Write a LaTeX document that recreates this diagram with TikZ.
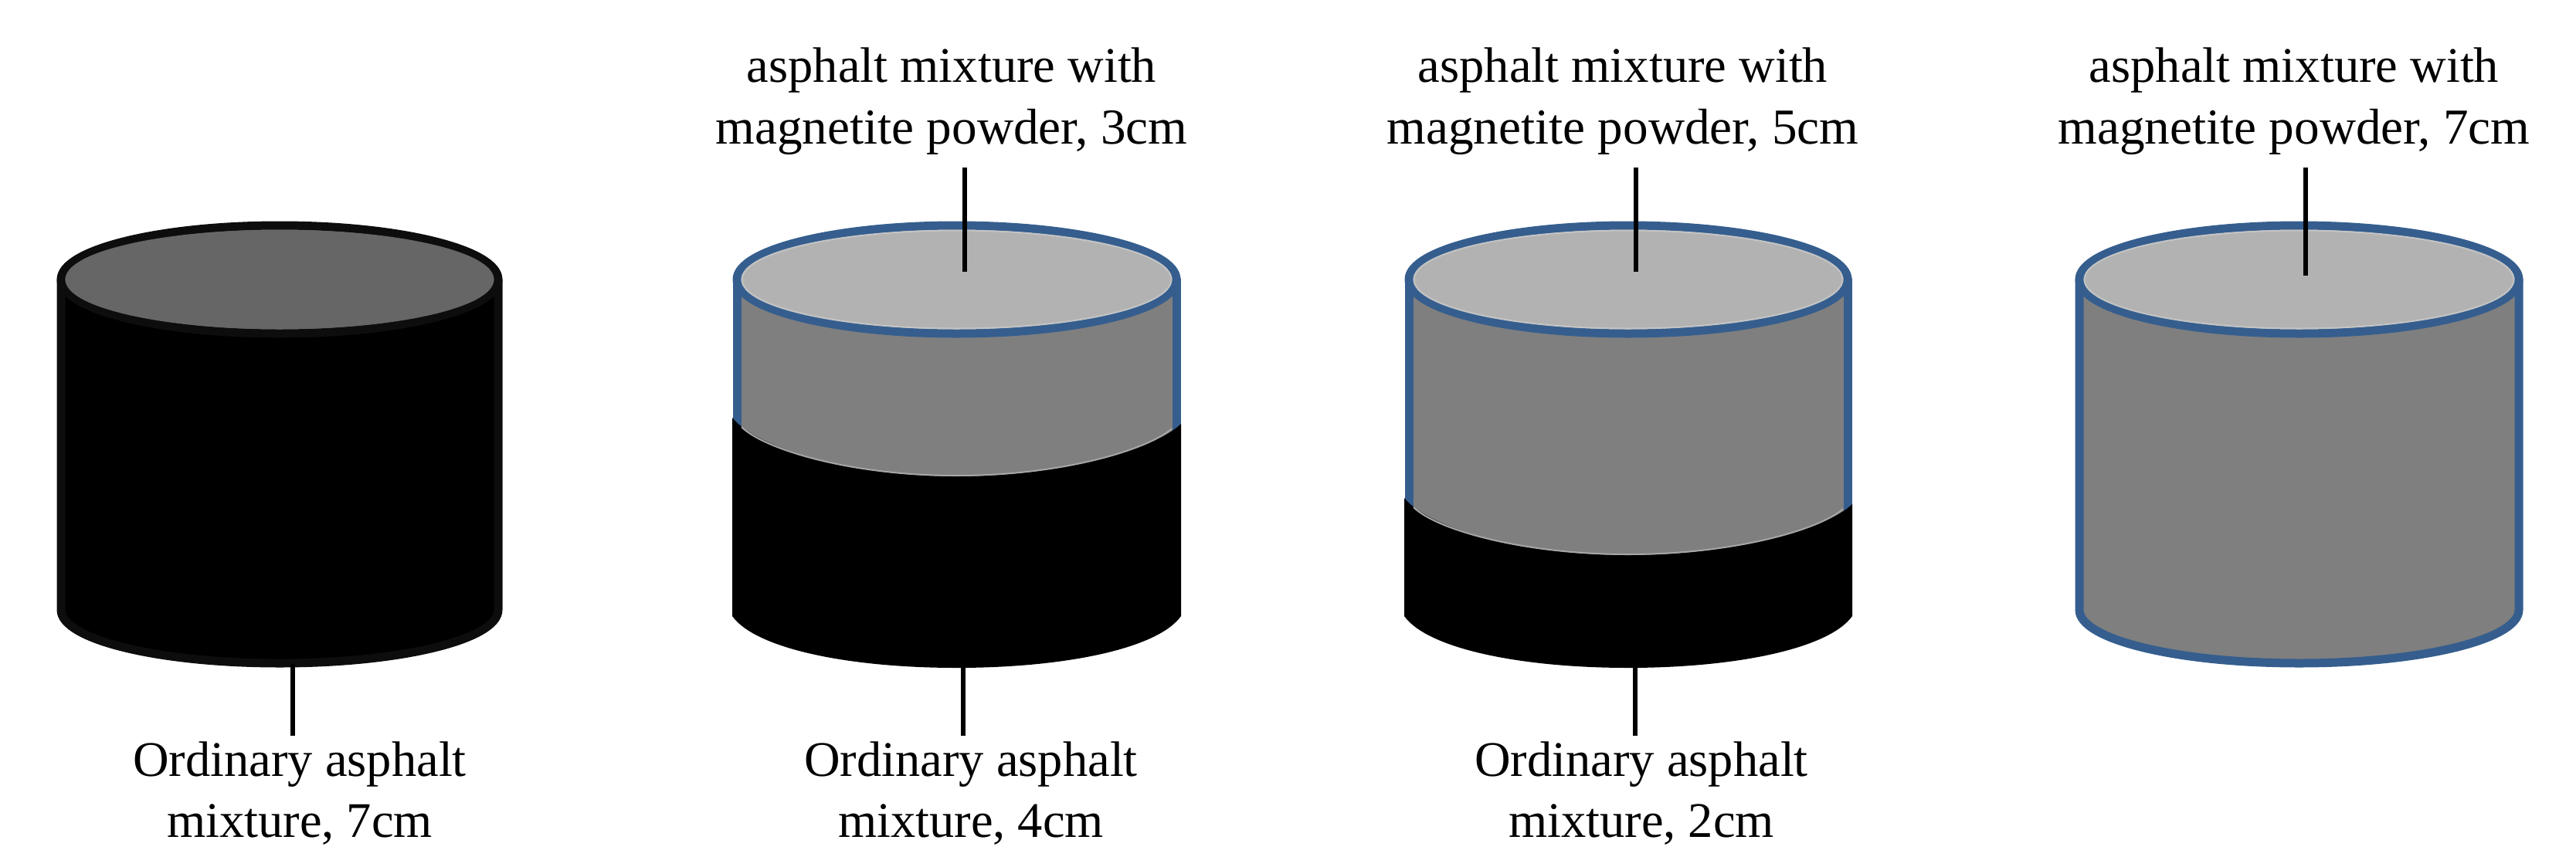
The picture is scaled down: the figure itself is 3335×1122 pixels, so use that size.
\documentclass[tikz,border=0pt]{standalone}
\usepackage{fontspec}
\setmainfont{Liberation Serif}
\definecolor{rimblue}{HTML}{355E8E}
\definecolor{bodygray}{HTML}{7F7F7F}
\definecolor{topgray}{HTML}{B2B2B2}
\definecolor{darktop}{HTML}{666666}
\definecolor{darkrim}{HTML}{0D0D0D}
\definecolor{softrim}{HTML}{C4C4C4}
\definecolor{edgegray}{HTML}{A6A6A6}
\tikzset{
  lab/.style={align=center,font=\fontsize{64.5}{80}\selectfont,inner sep=0pt,anchor=base},
  labwide/.style={lab,font=\fontsize{65.2}{80}\selectfont},
  leader/.style={draw=black,line width=5.5pt},
  rimline/.style={line width=11pt,line join=round},
}
% #1 left centre-line x, #2 right centre-line x, #3 body fill, #4 outline
\newcommand{\cylbody}[4]{%
  \path[fill=#3,draw=#4,rimline] (#1,362) -- (#1,790)
     .. controls (#1,828) and ({#1+0.22*(#2-#1)},859) .. ({(#1+#2)/2},859)
     .. controls ({#2-0.22*(#2-#1)},859) and (#2,828) .. (#2,790) -- (#2,362) -- cycle;
}
% upper part only, ending at the height #3 hidden behind the black layer
\newcommand{\cylupper}[3]{%
  \path[fill=bodygray,draw=rimblue,rimline] (#1,362) -- (#1,#3) -- (#2,#3) -- (#2,362) -- cycle;
}
% #1 left, #2 right, #3 outline, #4 top fill, #5 inner rim
\newcommand{\cyltop}[5]{%
  \path[fill=#4,draw=#3,rimline] ({(#1+#2)/2},362) ellipse ({(#2-#1)/2} and 70);
  \path[draw=#5,line width=2pt] ({(#1+#2)/2},362) ellipse ({(#2-#1)/2-6.5} and 63.5);
}
% #1 left outer x, #2 right outer x, #3 interface side y, #4 interface mid y
\newcommand{\blacklayer}[4]{%
  \path[fill=black] (#1,#3) .. controls ({#1+30},{#3+38}) and ({#1+150},#4) .. ({(#1+#2)/2},#4)
     .. controls ({#2-150},#4) and ({#2-30},{#3+38}) .. (#2,{#3+8})
     -- (#2,798) .. controls ({#2-30},840) and ({#2-150},865) .. ({(#1+#2)/2},865)
     .. controls ({#1+150},865) and ({#1+30},840) .. (#1,798) -- cycle;
  \path[draw=edgegray,line width=2pt] ({#1+12},{#3+12}) .. controls ({#1+40},{#3+40}) and ({#1+150},{#4-1}) .. ({(#1+#2)/2},{#4-1})
     .. controls ({#2-150},{#4-1}) and ({#2-40},{#3+40}) .. ({#2-12},{#3+14});
}
\begin{document}
\begin{tikzpicture}[x=1pt,y=-1pt]
\useasboundingbox[fill=white] (0,0) rectangle (3335,1122);
% cylinder 1
\cylbody{79}{645}{black}{darkrim}
\cyltop{79}{645}{darkrim}{darktop}{darktop}
% cylinder 2
\cylupper{954}{1523}{650}
\blacklayer{948}{1529}{541}{617}
\cyltop{954}{1523}{rimblue}{topgray}{softrim}
% cylinder 3
\cylupper{1824}{2392}{750}
\blacklayer{1818}{2398}{645}{719}
\cyltop{1824}{2392}{rimblue}{topgray}{softrim}
% cylinder 4
\cylbody{2692}{3261}{bodygray}{rimblue}
\cyltop{2692}{3261}{rimblue}{topgray}{softrim}
% labels
\node[lab] (top2a) at (1232,106) {asphalt mixture with};
\node[labwide] (top2b) at (1232,186) {magnetite powder, 3cm};
\node[lab] (top3a) at (2101,106) {asphalt mixture with};
\node[labwide] (top3b) at (2101,186) {magnetite powder, 5cm};
\node[lab] (top4a) at (2970,106) {asphalt mixture with};
\node[labwide] (top4b) at (2970,186) {magnetite powder, 7cm};
\node[lab] (low1a) at (388,1005) {Ordinary asphalt};
\node[lab] (low1b) at (388,1084) {mixture, 7cm};
\node[lab] (low2a) at (1257,1005) {Ordinary asphalt};
\node[lab] (low2b) at (1257,1084) {mixture, 4cm};
\node[lab] (low3a) at (2125,1005) {Ordinary asphalt};
\node[lab] (low3b) at (2125,1084) {mixture, 2cm};
% leaders
\coordinate (t2s) at (1249,217); \coordinate (t2e) at (1249,352);
\coordinate (t3s) at (2118,217); \coordinate (t3e) at (2118,352);
\coordinate (t4s) at (2985,217); \coordinate (t4e) at (2985,357);
\coordinate (b1s) at (379,860); \coordinate (b1e) at (379,953);
\coordinate (b2s) at (1247,860); \coordinate (b2e) at (1247,953);
\coordinate (b3s) at (2117,860); \coordinate (b3e) at (2117,953);
\draw[leader] (t2s) -- (t2e);
\draw[leader] (t3s) -- (t3e);
\draw[leader] (t4s) -- (t4e);
\draw[leader] (b1s) -- (b1e);
\draw[leader] (b2s) -- (b2e);
\draw[leader] (b3s) -- (b3e);
\end{tikzpicture}
\end{document}
